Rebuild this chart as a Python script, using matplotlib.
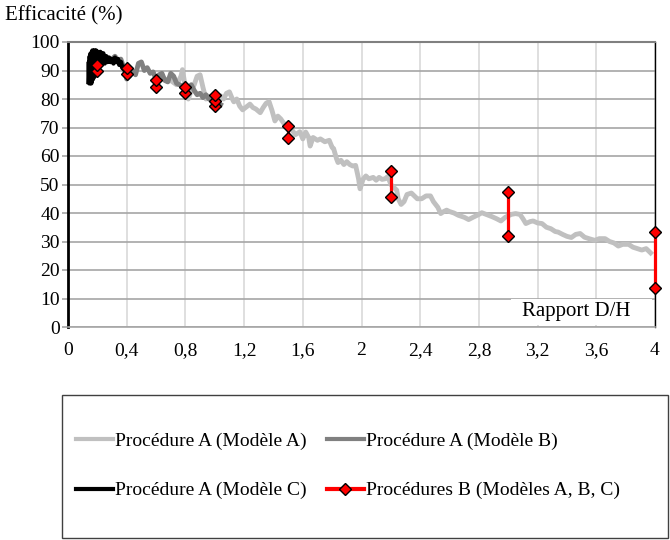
import matplotlib.pyplot as plt
from matplotlib.lines import Line2D
from matplotlib.patches import Rectangle

plt.rcParams['font.family'] = ['Liberation Serif', 'DejaVu Serif']

# Procédure A (Modèle A) - light gray
a_x = [0.62, 0.66, 0.70, 0.74, 0.77, 0.78, 0.80, 0.82, 0.84, 0.86, 0.88, 0.90, 0.92, 0.94,
       0.96, 0.98, 1.00, 1.02, 1.04, 1.06, 1.08, 1.10, 1.12, 1.13, 1.15, 1.17, 1.19, 1.21,
       1.24, 1.26, 1.28, 1.31, 1.33, 1.35, 1.37, 1.39, 1.41, 1.43, 1.45, 1.47, 1.50, 1.52,
       1.55, 1.58, 1.60, 1.62, 1.64, 1.65, 1.67, 1.70, 1.72, 1.75, 1.78, 1.80, 1.81, 1.83,
       1.84, 1.86, 1.88, 1.90, 1.92, 1.94, 1.96, 1.98, 1.99, 2.00, 2.01, 2.03, 2.05, 2.08,
       2.10, 2.12, 2.14, 2.16, 2.18, 2.20, 2.22, 2.24, 2.25, 2.27, 2.29, 2.31, 2.34, 2.36,
       2.38, 2.41, 2.44, 2.47, 2.49, 2.52, 2.54, 2.56, 2.58, 2.60, 2.63, 2.66, 2.70, 2.73,
       2.76, 2.80, 2.82, 2.85, 2.89, 2.92, 2.95, 2.98, 3.02, 3.05, 3.08, 3.10, 3.12, 3.15,
       3.17, 3.20, 3.23, 3.26, 3.29, 3.32, 3.34, 3.37, 3.40, 3.43, 3.46, 3.49, 3.52, 3.55,
       3.59, 3.62, 3.66, 3.69, 3.72, 3.75, 3.78, 3.82, 3.85, 3.88, 3.91, 3.94, 3.97]
a_y = [88, 87, 86.5, 85, 88, 90.3, 84, 80, 83, 85, 88, 88.5, 84, 80,
       81, 79, 77.5, 80, 81.1, 80, 82, 82.5, 80, 79, 80, 77.5, 76.2, 77,
       78.2, 77, 76.5, 75.2, 77, 78.5, 79.1, 76, 72.3, 74, 73, 71.5, 70.4, 69.5,
       67.5, 68.5, 66, 68.4, 66.5, 63.5, 66.5, 65.5, 66, 65, 65.5, 63, 62.6, 59,
       57.7, 58.5, 57, 58, 57, 56.5, 56.7, 52, 48.5, 50, 51.8, 53, 52, 52.5,
       51.5, 52.5, 51.8, 52, 52.8, 50, 49, 48, 45, 43, 44, 46.5, 47, 46,
       45, 45, 46, 46, 44, 42, 39.8, 40.5, 41, 40.5, 40, 39.2, 38.5, 37.7,
       38.5, 39.5, 40.1, 39.5, 38.7, 38, 37.2, 38.5, 39.5, 39.8, 39.5, 38, 36.3, 37,
       37.2, 36.5, 36.3, 35, 34.5, 33.5, 33.3, 32.5, 31.8, 31.4, 32.5, 32.8, 31.5, 31,
       30.4, 31, 31, 30, 29.5, 28.4, 29, 29, 28, 27.5, 27, 27.5, 26]

# Procédure A (Modèle B) - dark gray
b_x = [0.30, 0.32, 0.34, 0.36, 0.38, 0.40, 0.42, 0.44, 0.46, 0.48, 0.50, 0.52, 0.54,
       0.56, 0.58, 0.60, 0.62, 0.64, 0.66, 0.68, 0.70, 0.72, 0.74, 0.76, 0.78, 0.80,
       0.82, 0.84, 0.86, 0.88, 0.90, 0.92, 0.94, 0.96, 0.98, 1.00, 1.02, 1.04]
b_y = [94, 95, 93.5, 94, 91, 87, 88, 90, 88.5, 92.5, 93, 90, 91,
       89, 89.5, 87, 88.5, 89, 86.5, 86, 89, 88, 85.5, 85, 84.5, 84,
       83.5, 85, 83, 81.5, 82, 80.5, 81.5, 80, 79.5, 79, 78.5, 78]

# Procédure A (Modèle C) - black
c_x = [0.140, 0.143, 0.146, 0.149, 0.152, 0.155, 0.158, 0.161, 0.164, 0.167, 0.170,
       0.173, 0.176, 0.179, 0.182, 0.185, 0.188, 0.191, 0.194, 0.197, 0.200, 0.205,
       0.21, 0.22, 0.23, 0.24, 0.25, 0.26, 0.27, 0.28, 0.29, 0.30, 0.31, 0.32,
       0.33, 0.34, 0.35, 0.36, 0.37, 0.38]
c_y = [86, 93, 85.5, 95, 87, 96, 85.5, 94, 88, 97, 87, 96.5, 89, 97, 88, 96, 90, 97,
       89.5, 96, 91, 96.5,
       93, 96.5, 93, 96, 92.5, 95, 93, 94.5, 93, 94, 92.5, 94.5,
       93, 94, 92, 93, 91, 90.5]

# Procédures B (Modèles A, B, C) - red ranges
proc_b_x = [0.2, 0.4, 0.6, 0.8, 1.0, 1.5, 2.2, 3.0, 4.0]
proc_b_low = [89.7, 88.9, 84.3, 82.1, 77.7, 66.3, 45.7, 31.9, 13.8]
proc_b_mid = [None, None, None, None, 79.3, None, None, None, None]
proc_b_high = [92.0, 91.0, 86.6, 84.2, 81.3, 70.4, 54.8, 47.4, 33.3]

x_ticks = [0, 0.4, 0.8, 1.2, 1.6, 2, 2.4, 2.8, 3.2, 3.6, 4]
x_tick_labels = ['0', '0,4', '0,8', '1,2', '1,6', '2', '2,4', '2,8', '3,2', '3,6', '4']
y_ticks = list(range(0, 101, 10))

fig = plt.figure(figsize=(6.7, 5.4), dpi=100)
# plot area: x 68..655 px, y 42..327 px
ax = fig.add_axes([68 / 670, 1 - 327 / 540, 587 / 670, 285 / 540])

ax.set_xlim(0, 4)
ax.set_ylim(0, 100)
for y in y_ticks:
    ax.axhline(y, color='#a6a6a6', lw=1.2, zorder=0.5)
for x in x_ticks:
    ax.axvline(x, color='#d9d9d9', lw=1.2, zorder=0.4)

# white patch behind the axis title inside the plot
ax.add_patch(Rectangle((3.02, 0.8), 0.96, 9.0, facecolor='white', edgecolor='none', zorder=1))
ax.text(3.46, 5.6, 'Rapport D/H', ha='center', va='center', fontsize=15, zorder=1.5)

ax.plot(a_x, a_y, color='#c0c0c0', lw=3.5, solid_joinstyle='round', zorder=2)
ax.plot(b_x, b_y, color='#808080', lw=3.5, solid_joinstyle='round', zorder=2.1)
ax.plot(c_x, c_y, color='black', lw=3.3, solid_joinstyle='round', zorder=2.2)

for x, lo, mid, hi in zip(proc_b_x, proc_b_low, proc_b_mid, proc_b_high):
    ax.plot([x, x], [lo, hi], color='red', lw=2.3, zorder=3, clip_on=False)
    vals = [lo, hi] if mid is None else [lo, mid, hi]
    ax.plot([x] * len(vals), vals, ls='none', marker='D', ms=6, mfc='red',
            mec='black', mew=1, zorder=4, clip_on=False)

ax.spines['left'].set_color('black')
ax.spines['left'].set_linewidth(2)
ax.spines['right'].set_color('black')
ax.spines['right'].set_linewidth(1)
ax.spines['top'].set_color('#808080')
ax.spines['top'].set_linewidth(1.5)
ax.spines['bottom'].set_color('#a6a6a6')
ax.spines['bottom'].set_linewidth(1.2)

ax.set_xticks(x_ticks)
ax.set_xticklabels(x_tick_labels)
ax.set_yticks(y_ticks)
ax.tick_params(axis='x', length=0, pad=11, labelsize=14)
ax.tick_params(axis='y', length=4, width=1.2, color='#a6a6a6', pad=2, labelsize=14)

fig.text(5 / 670, 1 - 16 / 540, 'Efficacité (%)', ha='left', va='center', fontsize=15)

# legend box
fig.patches.append(Rectangle((62 / 670, 2 / 540), 606 / 670, 143 / 540,
                             transform=fig.transFigure, facecolor='none',
                             edgecolor='#404040', lw=1))
handles = [
    Line2D([], [], color='#c0c0c0', lw=3),
    Line2D([], [], color='black', lw=3),
    Line2D([], [], color='#808080', lw=3),
    Line2D([], [], color='red', lw=3, marker='D', ms=6, mfc='red', mec='black', mew=1),
]
labels = ['Procédure A (Modèle A)', 'Procédure A (Modèle C)',
          'Procédure A (Modèle B)', 'Procédures B (Modèles A, B, C)']
fig.legend(handles, labels, ncol=2, loc='upper left',
           bbox_to_anchor=(76 / 670, 1 - 432 / 540), frameon=False, fontsize=14,
           handlelength=1.9, handletextpad=0.1, columnspacing=1.05,
           labelspacing=1.65, borderpad=0, borderaxespad=0)

fig.savefig('out.png', dpi=100)
plt.close(fig)
